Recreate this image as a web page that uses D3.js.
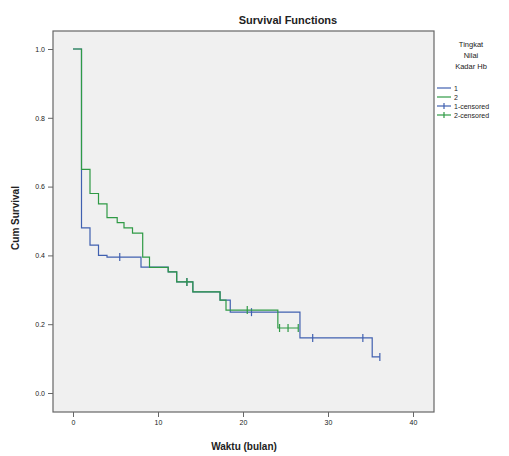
<!DOCTYPE html>
<html>
<head>
<meta charset="utf-8">
<script src="https://cdn.jsdelivr.net/npm/d3@7"></script>
<style>
  body { margin: 0; background: #fff; font-family: "Liberation Sans", Arial, sans-serif; }
  svg text { fill: #222; }
</style>
</head>
<body>
<svg id="chart"></svg>
<script>
// group labels and legend
let groups = ["1", "2"];
let legendLabels = ["1", "2", "1-censored", "2-censored"];
let legendTitle = ["Tingkat", "Nilai", "Kadar Hb"];

// group 1 (blue) steps
let timeG1 = [0, 1, 2, 3, 4, 8, 11.2, 12.2, 14.1, 17.3, 18.5, 26.7, 35.2, 36.1];
let survG1 = [1, 0.48, 0.43, 0.40, 0.395, 0.366, 0.352, 0.323, 0.294, 0.27, 0.235, 0.16, 0.105, 0.105];
let censG1 = [5.5, 13.4, 21, 28.2, 34.1, 36.1];

// group 2 (green) steps
let timeG2 = [0, 1, 2, 3, 4, 5.2, 6, 7, 8.2, 9, 11.2, 12.2, 14.1, 17.3, 18, 24.1, 26.5];
let survG2 = [1, 0.65, 0.58, 0.55, 0.51, 0.495, 0.48, 0.465, 0.395, 0.365, 0.352, 0.323, 0.294, 0.27, 0.241, 0.189, 0.189];
let censG2 = [13.4, 20.5, 24.3, 25.3, 26.5];

let xTicks = [0, 10, 20, 30, 40];
let yTicks = [0, 0.2, 0.4, 0.6, 0.8, 1.0];

function makeChart() {
  let svg = d3.select('#chart').attr('width', 509).attr('height', 456);

  let scX = d3.scaleLinear().domain([0, 40]).range([73, 413]);
  let scY = d3.scaleLinear().domain([0, 1]).range([393, 49]);

  let left = 53, right = 434, top = 31, bottom = 412;

  // plot frame
  svg.append('rect')
      .attr('x', left).attr('y', top)
      .attr('width', right - left).attr('height', bottom - top)
      .attr('fill', '#f0f0f0').attr('stroke', '#666').attr('stroke-width', 1.2);

  // axes
  let yAxis = d3.axisLeft(scY).tickValues(yTicks).tickSize(5).tickFormat(d3.format('.1f'));
  let gy = svg.append('g').attr('transform', `translate(${left},0)`).call(yAxis);
  let xAxis = d3.axisBottom(scX).tickValues(xTicks).tickSize(5).tickFormat(d3.format('d'));
  let gx = svg.append('g').attr('transform', `translate(0,${bottom})`).call(xAxis);
  [gx, gy].forEach(g => {
      g.select('.domain').remove();
      g.selectAll('line').attr('stroke', '#666');
      g.selectAll('text').attr('font-size', 7).attr('fill', '#222');
  });

  // survival step curves
  let series = [
      {name: groups[0], t: timeG1, s: survG1, c: censG1, color: '#4060b0'},
      {name: groups[1], t: timeG2, s: survG2, c: censG2, color: '#2f9a45'}
  ];
  let line = d3.line()
      .x(d => scX(d[0])).y(d => scY(d[1]))
      .curve(d3.curveStepAfter);

  series.forEach(sr => {
      let pts = sr.t.map((t, i) => [t, sr.s[i]]);
      svg.append('path')
          .datum(pts)
          .attr('d', line)
          .attr('fill', 'none')
          .attr('stroke', sr.color)
          .attr('stroke-width', 1.2);

      // censored marks
      let survAt = t => {
          let v = sr.s[0];
          sr.t.forEach((tt, i) => { if (tt <= t) v = sr.s[i]; });
          return v;
      };
      svg.selectAll(null)
          .data(sr.c).enter().append('line')
          .attr('x1', d => scX(d)).attr('x2', d => scX(d))
          .attr('y1', d => scY(survAt(d)) - 4)
          .attr('y2', d => scY(survAt(d)) + 4)
          .attr('stroke', sr.color).attr('stroke-width', 1.2);
  });

  // titles
  svg.append('text')
      .attr('x', 288).attr('y', 24)
      .attr('text-anchor', 'middle')
      .attr('font-size', 11).attr('font-weight', 'bold')
      .text('Survival Functions');

  svg.append('text')
      .attr('x', 244).attr('y', 450)
      .attr('text-anchor', 'middle')
      .attr('font-size', 10).attr('font-weight', 'bold')
      .text('Waktu (bulan)');

  svg.append('text')
      .attr('transform', 'translate(19,218) rotate(-90)')
      .attr('text-anchor', 'middle')
      .attr('font-size', 10).attr('font-weight', 'bold')
      .text('Cum Survival');

  // legend
  let lg = svg.append('g');
  lg.selectAll('text.title')
      .data(legendTitle).enter().append('text')
      .attr('class', 'title')
      .attr('x', 471).attr('y', (d, i) => 47 + i * 11)
      .attr('text-anchor', 'middle')
      .attr('font-size', 7.5)
      .text(d => d);

  let colors = [series[0].color, series[1].color, series[0].color, series[1].color];
  let items = lg.selectAll('g.item')
      .data(legendLabels).enter().append('g')
      .attr('class', 'item')
      .attr('transform', (d, i) => `translate(437,${88 + i * 9})`);
  items.append('line')
      .attr('x1', 0).attr('x2', 14).attr('y1', 0).attr('y2', 0)
      .attr('stroke', (d, i) => colors[i]).attr('stroke-width', 1.2);
  items.filter((d, i) => i >= 2).append('line')
      .attr('x1', 7).attr('x2', 7).attr('y1', -3).attr('y2', 3)
      .attr('stroke', (d, i) => colors[i + 2]).attr('stroke-width', 1.2);
  items.append('text')
      .attr('x', 17).attr('y', 2.5)
      .attr('font-size', 7)
      .text(d => d);
}

makeChart();
</script>
</body>
</html>
